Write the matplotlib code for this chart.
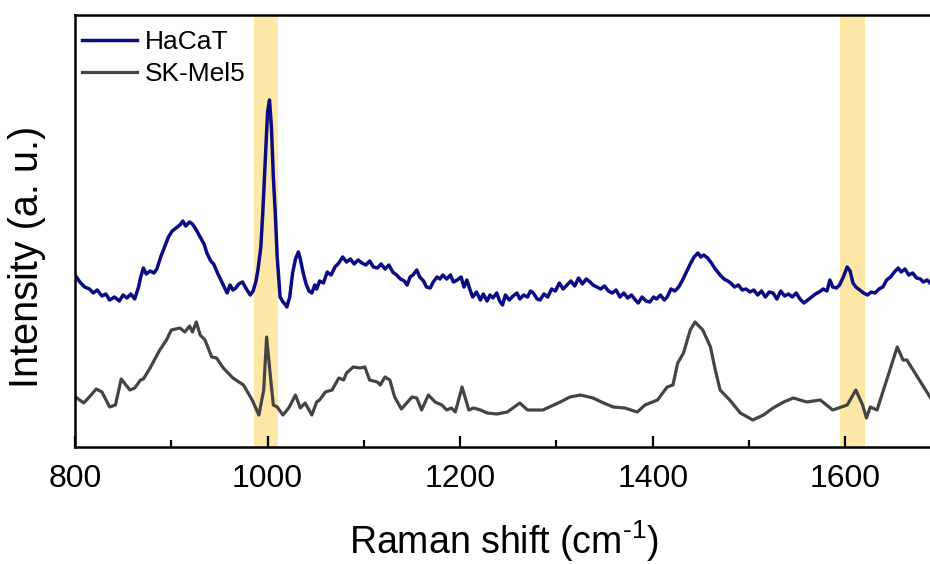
import numpy as np
import matplotlib.pyplot as plt
from matplotlib.ticker import MultipleLocator

plt.rcParams['font.family'] = ['Liberation Sans', 'DejaVu Sans']
plt.rcParams['mathtext.fontset'] = 'custom'
plt.rcParams['mathtext.rm'] = 'Liberation Sans'

# HaCaT spectrum (arbitrary units)
hacat_x = [800, 805, 810, 815, 819, 823, 828, 832, 836, 841, 846, 850, 854, 858, 862, 866, 868, 871, 874, 878,
           882, 885, 889, 893, 897, 901, 905, 909, 912, 915, 919, 922, 926, 930, 934, 937, 941, 944, 948, 952,
           955, 958, 961, 964, 967, 970, 974, 978, 982, 985, 988, 990, 993, 995, 998, 1000, 1002, 1004, 1006, 1008,
           1010, 1013, 1016, 1018, 1020, 1023, 1026, 1029, 1032, 1034, 1037, 1040, 1043, 1046, 1049, 1051, 1054, 1058, 1062, 1066,
           1070, 1074, 1078, 1082, 1086, 1090, 1094, 1098, 1102, 1106, 1110, 1114, 1118, 1122, 1126, 1130, 1134, 1138, 1142, 1145,
           1148, 1151, 1155, 1158, 1162, 1165, 1169, 1172, 1176, 1179, 1182, 1186, 1190, 1193, 1197, 1201, 1204, 1207, 1210, 1213,
           1217, 1221, 1224, 1228, 1231, 1234, 1238, 1241, 1244, 1247, 1251, 1255, 1259, 1262, 1266, 1270, 1273, 1276, 1280, 1283,
           1287, 1291, 1295, 1299, 1303, 1307, 1311, 1315, 1319, 1323, 1327, 1331, 1335, 1338, 1342, 1346, 1350, 1354, 1358, 1362,
           1366, 1370, 1374, 1378, 1382, 1385, 1389, 1393, 1397, 1401, 1404, 1408, 1412, 1415, 1419, 1423, 1427, 1431, 1435, 1439,
           1443, 1447, 1450, 1453, 1457, 1461, 1465, 1470, 1474, 1478, 1481, 1485, 1489, 1493, 1497, 1501, 1505, 1509, 1513, 1517,
           1521, 1525, 1529, 1533, 1537, 1541, 1545, 1549, 1553, 1557, 1561, 1565, 1569, 1573, 1577, 1581, 1584, 1587, 1591, 1594,
           1598, 1602, 1605, 1608, 1611, 1615, 1619, 1623, 1627, 1631, 1635, 1639, 1643, 1647, 1651, 1655, 1658, 1662, 1666, 1670,
           1674, 1678, 1681, 1685, 1688]
hacat_y = [172, 165, 160, 158, 154, 157, 151, 153, 147, 150, 146, 152, 149, 153, 148, 160, 169, 179, 173, 176,
           174, 178, 190, 200, 210, 216, 219, 222, 226, 221, 225, 223, 217, 210, 203, 194, 186, 183, 174, 166,
           160, 154, 162, 157, 159, 163, 165, 158, 152, 156, 166, 177, 200, 234, 295, 335, 347, 320, 270, 234,
           190, 150, 145, 143, 140, 150, 174, 188, 195, 188, 174, 163, 156, 154, 162, 158, 166, 164, 175, 172,
           180, 184, 190, 185, 188, 183, 187, 184, 182, 186, 180, 179, 183, 178, 182, 175, 172, 168, 166, 162,
           170, 172, 177, 170, 166, 160, 159, 165, 170, 168, 172, 168, 172, 165, 167, 170, 160, 167, 158, 150,
           155, 147, 153, 146, 152, 149, 154, 146, 142, 152, 147, 151, 154, 148, 152, 150, 156, 154, 148, 147,
           153, 150, 158, 156, 164, 158, 162, 166, 161, 169, 163, 168, 165, 162, 160, 158, 161, 156, 154, 157,
           150, 154, 149, 152, 147, 144, 150, 146, 145, 150, 148, 152, 147, 150, 158, 156, 160, 167, 175, 183,
           190, 194, 190, 192, 189, 184, 178, 172, 168, 166, 164, 160, 162, 157, 158, 155, 157, 152, 156, 150,
           155, 154, 148, 156, 151, 153, 150, 154, 148, 144, 147, 150, 153, 155, 158, 156, 167, 160, 159, 162,
           170, 180, 176, 164, 160, 157, 154, 152, 155, 154, 158, 160, 167, 170, 175, 179, 175, 178, 172, 174,
           169, 168, 165, 167, 164]

# SK-Mel5 spectrum
skmel_x = [802, 809, 814, 822, 828, 836, 842, 848, 857, 862, 868, 871, 878, 888, 895, 900, 909, 914, 919, 922,
           926, 930, 935, 942, 947, 954, 964, 975, 984, 991, 996, 999, 1003, 1006, 1010, 1016, 1022, 1029, 1034, 1039,
           1046, 1051, 1054, 1060, 1067, 1074, 1079, 1082, 1089, 1096, 1101, 1106, 1114, 1117, 1122, 1127, 1132, 1139, 1150, 1155,
           1160, 1167, 1174, 1181, 1186, 1191, 1195, 1202, 1209, 1214, 1221, 1228, 1238, 1249, 1262, 1270, 1286, 1304, 1314, 1325,
           1338, 1349, 1359, 1371, 1384, 1392, 1405, 1415, 1421, 1426, 1432, 1439, 1444, 1452, 1460, 1465, 1470, 1480, 1491, 1504,
           1515, 1525, 1536, 1546, 1560, 1574, 1587, 1602, 1611, 1618, 1622, 1626, 1633, 1644, 1654, 1660, 1664, 1675, 1688]
skmel_y = [49, 44, 49, 58, 55, 40, 42, 68, 57, 59, 67, 68, 79, 97, 107, 117, 119, 115, 121, 115,
           125, 112, 107, 90, 89, 79, 69, 62, 47, 32, 57, 110, 70, 42, 40, 32, 39, 52, 39, 44,
           32, 45, 47, 55, 57, 69, 67, 74, 80, 79, 80, 67, 65, 62, 70, 67, 50, 38, 50, 49,
           37, 52, 45, 42, 37, 39, 35, 60, 37, 39, 37, 34, 33, 35, 44, 37, 37, 45, 50, 52,
           49, 44, 40, 39, 35, 42, 47, 60, 62, 84, 94, 117, 125, 117, 100, 77, 57, 47, 34, 27,
           32, 39, 45, 49, 45, 47, 37, 42, 57, 42, 29, 40, 37, 70, 100, 87, 87, 70, 50]

bands = [(986, 1011), (1595, 1620)]

fig = plt.figure(figsize=(9.3, 5.64), dpi=100)
ax = fig.add_axes([75 / 930, 117 / 564, 1 - 75 / 930, 432 / 564])

for lo, hi in bands:
    ax.axvspan(lo, hi, color='#fde8a8', lw=0, zorder=0)

ax.plot(hacat_x, hacat_y, color='#0b0b86', lw=2.5, label='HaCaT')
ax.plot(skmel_x, skmel_y, color='#444444', lw=2.3, label='SK-Mel5')

ax.set_xlim(800, 1688)
ax.set_ylim(0, 432)
ax.set_yticks([])
ax.xaxis.set_major_locator(MultipleLocator(200))
ax.xaxis.set_minor_locator(MultipleLocator(100))
ax.tick_params(axis='x', which='major', direction='in', length=8, width=1.6, labelsize=23, pad=12)
ax.tick_params(axis='x', which='minor', direction='in', length=5, width=1.6)
for s in ['left', 'bottom', 'top']:
    ax.spines[s].set_linewidth(1.8)
ax.spines['right'].set_visible(False)

ax.set_xlabel('Raman shift (cm$^{\\text{-}1}$)', fontsize=27)
ax.xaxis.set_label_coords(0.502, -0.165)
ax.set_ylabel('Intensity (a. u.)', fontsize=28.5)
ax.yaxis.set_label_coords(-0.034, 0.44)

ax.legend(loc='upper left', bbox_to_anchor=(0.002, 0.978), frameon=False, fontsize=19,
          handlelength=2.1, borderaxespad=0, borderpad=0.2, handletextpad=0.3, labelspacing=0.32)

fig.savefig('out.png', dpi=100)
